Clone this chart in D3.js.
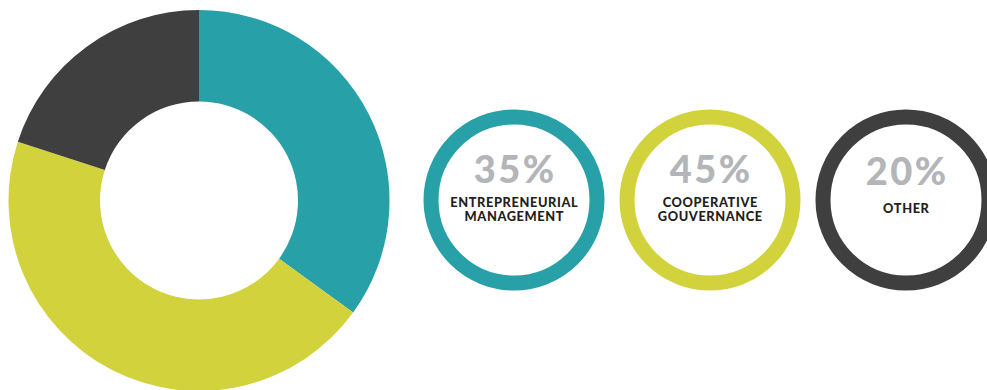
<!DOCTYPE html>
<html>
<head>
<meta charset="utf-8">
<script src="https://cdn.jsdelivr.net/npm/d3@7"></script>
<style>
  html, body { margin: 0; padding: 0; background: #ffffff; }
  svg { display: block; }
</style>
</head>
<body>
<svg id="chart" width="987" height="390"></svg>
<script>
// Share of each governance model
const categories = ["Entrepreneurial Management", "Cooperative Gouvernance", "Other"];
const shares = [35, 45, 20];
const labelLines = [["ENTREPRENEURIAL", "MANAGEMENT"], ["COOPERATIVE", "GOUVERNANCE"], ["OTHER"]];
const colors = ["#28a0a8", "#d2d23c", "#3f3f3f"];

const svg = d3.select("#chart");

const color = d3.scaleOrdinal().domain(categories).range(colors);

// Donut
const pie = d3.pie().sort(null).value(d => d.value);
const arc = d3.arc().innerRadius(99).outerRadius(190.5);
const data = categories.map((c, i) => ({ name: c, value: shares[i] }));

svg.append("g")
  .attr("transform", "translate(199,200.5)")
  .selectAll("path")
  .data(pie(data))
  .join("path")
  .attr("d", arc)
  .attr("fill", d => color(d.data.name));

// Ring badges
const x = d3.scalePoint().domain(categories).range([514, 906]);

const badge = svg.append("g")
  .selectAll("g")
  .data(data)
  .join("g")
  .attr("transform", d => `translate(${x(d.name)},200)`);

badge.append("circle")
  .attr("r", 83)
  .attr("fill", "#ffffff")
  .attr("stroke", d => color(d.name))
  .attr("stroke-width", 15);

const pctSpacing = 2.5;
badge.append("text")
  .attr("x", pctSpacing / 2)
  .attr("y", (d, i) => labelLines[i].length > 1 ? -17.5 : -15.5)
  .attr("text-anchor", "middle")
  .attr("font-family", "Lato, sans-serif")
  .attr("font-weight", 900)
  .attr("font-size", 38)
  .attr("letter-spacing", pctSpacing)
  .attr("fill", "#b4b5b8")
  .text(d => d3.format("d")(d.value) + "%");

badge.each(function (d, i) {
  const lines = labelLines[i];
  const t = d3.select(this).append("text")
    .attr("text-anchor", "middle")
    .attr("font-family", "Lato, sans-serif")
    .attr("font-weight", 900)
    .attr("font-size", 12.8)
    .attr("letter-spacing", 0.6)
    .attr("fill", "#231f20");
  lines.forEach((l, j) => {
    t.append("tspan")
      .attr("x", 0.3)
      .attr("y", (lines.length > 1 ? 6.5 : 13.3) + j * 14.5)
      .text(l);
  });
});
</script>
</body>
</html>
